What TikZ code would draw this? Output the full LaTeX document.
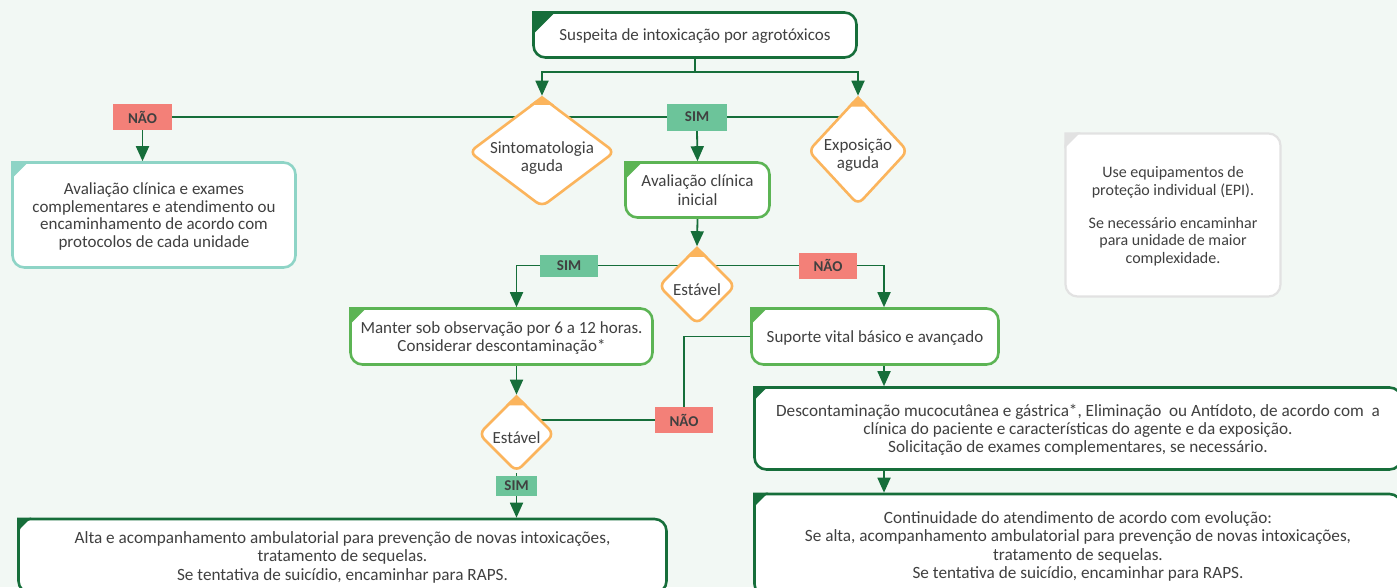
\documentclass[tikz,border=0pt]{standalone}
\usepackage{fontspec}
\setmainfont{Carlito}
\usetikzlibrary{shapes.geometric,arrows.meta,calc}

\definecolor{bgmint}{RGB}{242,248,244}
\definecolor{darkgreen}{RGB}{22,110,58}
\definecolor{lightgreen}{RGB}{92,180,84}
\definecolor{mintteal}{RGB}{142,212,198}
\definecolor{diaorange}{RGB}{251,180,92}
\definecolor{boxgray}{RGB}{226,226,226}
\definecolor{simgreen}{RGB}{108,196,154}
\definecolor{naored}{RGB}{243,128,120}
\definecolor{txtgray}{RGB}{64,64,64}

\pgfdeclarelayer{bg}
\pgfdeclarelayer{wires}
\pgfsetlayers{bg,wires,main}

% corner marks of the boxes and diamonds
\newcommand{\boxflag}[3]{\fill[#2] (#1.north west) -- ++(#3,0) -- ++(-#3,-#3) -- cycle;}
\newcommand{\diaflag}[1]{\fill[diaorange] (#1.north) -- ($(#1.north)!15pt!(#1.east)$) -- ($(#1.north)!15pt!(#1.west)$) -- cycle;}

\begin{document}
\begin{tikzpicture}[x=1pt,y=1pt,
  every node/.style={text=txtgray,font=\fontsize{17}{18.3}\selectfont,inner sep=0pt},
  every label/.style={align=center,yshift=-4pt},
  card/.style={rectangle,rounded corners=12pt,fill=white,line width=2.6pt,align=center,text depth=-3.5pt},
  darkbox/.style={card,draw=darkgreen},
  lightbox/.style={card,draw=lightgreen},
  tealbox/.style={card,draw=mintteal},
  graybox/.style={card,draw=boxgray,line width=2.2pt},
  bigtext/.style={font=\fontsize{17.2}{18.3}\selectfont},
  decision/.style={diamond,draw=diaorange,fill=white,line width=2.6pt,rounded corners=7pt},
  tag/.style={font=\fontsize{15}{18}\selectfont\bfseries},
  simtag/.style={tag,fill=simgreen},
  naotag/.style={tag,fill=naored},
  wire/.style={draw=darkgreen,line width=1.8pt},
  arr/.style={wire,-{Triangle[length=15pt,width=13pt]}}]
\useasboundingbox (0,0) rectangle (1397,-587);
\begin{pgfonlayer}{bg}
\fill[bgmint] (0,0) rectangle (1397,-587);
\end{pgfonlayer}
\clip (0,0) rectangle (1397,-587);

% top row
\node[darkbox,minimum width=323pt,minimum height=45pt] (susp) at (695,-35) {Suspeita de intoxicação por agrotóxicos};
\node[decision,minimum width=146pt,minimum height=110pt,label={[name=sint-txt,yshift=-2pt]center:Sintomatologia\\aguda}] (sint) at (542,-152) {};
\node[decision,minimum width=100pt,minimum height=108pt,label={[name=expo-txt]center:Exposição\\aguda}] (expo) at (858,-151) {};
\node[naotag,minimum width=59pt,minimum height=26pt] (nao1) at (142.5,-117) {NÃO};
\node[simtag,minimum width=60pt,minimum height=27pt] (sim1) at (697,-117) {SIM};
\node[tealbox,font=\fontsize{17}{17.5}\selectfont,minimum width=283pt,minimum height=105pt] (avalex) at (154,-215) {Avaliação clínica e exames\\complementares e atendimento ou\\encaminhamento de acordo com\\protocolos de cada unidade};
\node[lightbox,minimum width=144pt,minimum height=55pt] (avalini) at (697.5,-190) {Avaliação clínica\\inicial};
\node[graybox,font=\fontsize{16}{17.6}\selectfont,minimum width=215pt,minimum height=163pt] (epi) at (1173,-215) {Use equipamentos de\\proteção individual (EPI).\\[15pt]Se necessário encaminhar\\para unidade de maior\\complexidade.};

% first check
\node[decision,minimum width=77pt,minimum height=77pt,label={[name=est1-txt]center:Estável}] (est1) at (697,-286) {};
\node[simtag,minimum width=58pt,minimum height=22pt] (sim2) at (569,-265.5) {SIM};
\node[naotag,minimum width=58pt,minimum height=26pt] (nao2) at (828,-265.5) {NÃO};
\coordinate (rcol) at (884,-265.5);
\node[lightbox,minimum width=302pt,minimum height=56pt] (manter) at (501.5,-336.5) {Manter sob observação por 6 a 12 horas.\\Considerar descontaminação*};
\node[lightbox,minimum width=247pt,minimum height=56pt] (suporte) at (875,-336.5) {Suporte vital básico e avançado};

% second check
\node[decision,minimum width=76pt,minimum height=76pt,label={[name=est2-txt]center:Estável}] (est2) at (516.5,-434) {};
\node[naotag,minimum width=58pt,minimum height=26pt] (nao3) at (684,-420) {NÃO};
\node[simtag,minimum width=41pt,minimum height=20pt] (sim3) at (516.5,-486) {SIM};

% bottom boxes
\node[darkbox,bigtext,minimum width=648pt,minimum height=74pt] (alta) at (342.5,-556) {Alta e acompanhamento ambulatorial para prevenção de novas intoxicações,\\tratamento de sequelas.\\Se tentativa de suicídio, encaminhar para RAPS.};
\node[darkbox,bigtext,minimum width=647pt,minimum height=82pt] (descont) at (1078,-428.5) {Descontaminação mucocutânea e gástrica*, Eliminação\ \ ou Antídoto, de acordo com\ \ a\\clínica do paciente e características do agente e da exposição.\\Solicitação de exames complementares, se necessário.};
\node[darkbox,bigtext,minimum width=647pt,minimum height=102pt] (contin) at (1078,-545) {Continuidade do atendimento de acordo com evolução:\\Se alta, acompanhamento ambulatorial para prevenção de novas intoxicações,\\tratamento de sequelas.\\Se tentativa de suicídio, encaminhar para RAPS.};

\boxflag{susp}{darkgreen}{24}
\boxflag{avalex}{mintteal}{18}
\boxflag{avalini}{lightgreen}{19}
\boxflag{manter}{lightgreen}{18}
\boxflag{suporte}{lightgreen}{18}
\boxflag{epi}{boxgray}{16}
\boxflag{alta}{darkgreen}{14}
\boxflag{descont}{darkgreen}{15}
\boxflag{contin}{darkgreen}{15}
\diaflag{sint}
\diaflag{expo}
\diaflag{est1}
\diaflag{est2}

\begin{pgfonlayer}{wires}
\draw[arr] (susp.south) -- ++(0,-13) -| (sint.north);
\draw[arr] (susp.south) -- ++(0,-13) -| (expo.north);
\draw[wire] (nao1) -- (nao1 -| expo);
\draw[arr] (nao1.south) -- (nao1.south |- avalex.north);
\draw[arr] (sim1.south) -- (avalini.north);
\draw[arr] (avalini.south) -- (est1.north);
\draw[wire] (sim2) -- (nao2);
\draw[arr] (sim2) -| (manter.north -| est2);
\draw[arr] (nao2) -| (suporte.north -| rcol);
\draw[arr] (manter.south -| est2) -- (est2.north);
\draw[wire] (nao3) -- (nao3 -| est2);
\draw[wire] (nao3) |- (suporte.west);
\draw[wire] (est2.south) -- (sim3);
\draw[arr] (sim3.south) -- (sim3.south |- alta.north);
\draw[arr] (suporte.south -| rcol) -- (descont.north -| rcol);
\draw[arr] (descont.south -| rcol) -- (contin.north -| rcol);
\end{pgfonlayer}
\end{tikzpicture}
\end{document}
